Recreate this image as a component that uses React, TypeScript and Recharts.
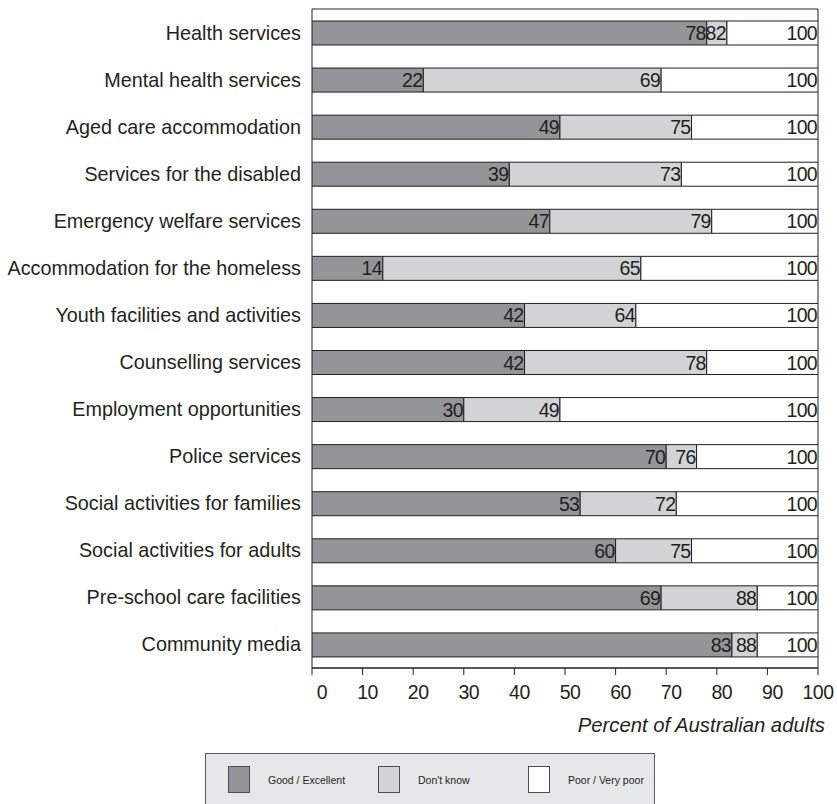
import React from 'react';
import { BarChart, Bar, XAxis, YAxis, LabelList, ReferenceArea, Label } from 'recharts';

// Survey items, top to bottom
const categories = [
  'Health services',
  'Mental health services',
  'Aged care accommodation',
  'Services for the disabled',
  'Emergency welfare services',
  'Accommodation for the homeless',
  'Youth facilities and activities',
  'Counselling services',
  'Employment opportunities',
  'Police services',
  'Social activities for families',
  'Social activities for adults',
  'Pre-school care facilities',
  'Community media',
];

// Percent rating the service Good / Excellent
const goodExcellent = [78, 22, 49, 39, 47, 14, 42, 42, 30, 70, 53, 60, 69, 83];
// Cumulative percent: Good / Excellent plus Don't know
const cumulativeDontKnow = [82, 69, 75, 73, 79, 65, 64, 78, 49, 76, 72, 75, 88, 88];
// Whole of each bar
const total = 100;

const xTicks = [0, 10, 20, 30, 40, 50, 60, 70, 80, 90, 100];

const INK = '#231f20';
const FONT = '"Liberation Sans", Arial, Helvetica, sans-serif';

const series = [
  { key: 'good', labelKey: 'goodLabel', name: 'Good / Excellent', fill: '#939598' },
  { key: 'dontKnow', labelKey: 'dontKnowLabel', name: "Don't know", fill: '#d1d3d4' },
  { key: 'poor', labelKey: 'poorLabel', name: 'Poor / Very poor', fill: '#ffffff' },
];

const data = categories.map((name, i) => ({
  name,
  good: goodExcellent[i],
  dontKnow: cumulativeDontKnow[i] - goodExcellent[i],
  poor: total - cumulativeDontKnow[i],
  goodLabel: goodExcellent[i],
  dontKnowLabel: cumulativeDontKnow[i],
  poorLabel: total,
}));

const EndLabel = (props: any) => {
  const { x, y, width, height, value } = props;
  return (
    <text
      x={Number(x) + Number(width) - 1}
      y={Number(y) + Number(height) / 2 + 7}
      textAnchor="end"
      fontSize={19.5}
      letterSpacing={-0.7}
      fontFamily={FONT}
      fill={INK}
    >
      {value}
    </text>
  );
};

const CategoryTick = (props: any) => {
  const { x, y, payload } = props;
  return (
    <text x={x} y={y + 7} textAnchor="end" fontSize={19.8} fontFamily={FONT} fill={INK}>
      {payload.value}
    </text>
  );
};

const ValueTick = (props: any) => {
  const { x, y, payload } = props;
  const shift = payload.value === 0 ? 10 : payload.value === 100 ? 0 : 5;
  return (
    <text
      x={x + shift}
      y={y + 23}
      textAnchor="middle"
      fontSize={19.5}
      letterSpacing={-0.5}
      fontFamily={FONT}
      fill={INK}
    >
      {payload.value}
    </text>
  );
};

const AxisTitle = (props: any) => {
  const { viewBox } = props;
  return (
    <text
      x={viewBox.x + viewBox.width + 7}
      y={viewBox.y + 64}
      textAnchor="end"
      fontSize={20.3}
      fontStyle="italic"
      fontFamily={FONT}
      fill={INK}
    >
      Percent of Australian adults
    </text>
  );
};

const LegendBox = () => (
  <div
    style={{
      position: 'absolute',
      left: 205,
      top: 753,
      width: 450,
      height: 60,
      background: '#e6e7e8',
      border: '1px solid #58595b',
      boxSizing: 'border-box',
      fontFamily: FONT,
      fontSize: 10.5,
      color: INK,
    }}
  >
    {series.map((s, i) => (
      <React.Fragment key={s.key}>
        <div
          style={{
            position: 'absolute',
            left: 22 + i * 150,
            top: 12,
            width: 22,
            height: 27,
            background: s.fill,
            border: '1px solid #4d4d4f',
            boxSizing: 'border-box',
          }}
        />
        <div
          style={{
            position: 'absolute',
            left: 62 + i * 150,
            top: 19,
            lineHeight: '14px',
            whiteSpace: 'nowrap',
          }}
        >
          {s.name}
        </div>
      </React.Fragment>
    ))}
  </div>
);

export default function App() {
  return (
    <div
      style={{
        position: 'absolute',
        left: 0,
        top: 0,
        width: 837,
        height: 804,
        overflow: 'hidden',
        background: '#ffffff',
      }}
    >
      <BarChart
        width={837}
        height={804}
        layout="vertical"
        data={data}
        barSize={24}
        margin={{ top: 9, right: 19, bottom: 66, left: 0 }}
        style={{ overflow: 'visible' }}
      >
        <XAxis
          type="number"
          domain={[0, 100]}
          ticks={xTicks}
          allowDataOverflow
          height={70}
          tickSize={7}
          tickMargin={1}
          tickLine={{ stroke: INK }}
          axisLine={{ stroke: INK }}
          tick={<ValueTick />}
        >
          <Label content={<AxisTitle />} />
        </XAxis>
        <YAxis
          type="category"
          dataKey="name"
          width={312}
          tickSize={0}
          tickMargin={11}
          axisLine={false}
          tickLine={false}
          interval={0}
          tick={<CategoryTick />}
        />
        {series.map((s) => (
          <Bar
            key={s.key}
            dataKey={s.key}
            name={s.name}
            stackId="rating"
            fill={s.fill}
            stroke={INK}
            strokeWidth={1}
            isAnimationActive={false}
          >
            <LabelList dataKey={s.labelKey} content={<EndLabel />} />
          </Bar>
        ))}
        <ReferenceArea x1={0} x2={100} fill="none" stroke={INK} strokeWidth={1} ifOverflow="visible" />
      </BarChart>
      <LegendBox />
    </div>
  );
}
